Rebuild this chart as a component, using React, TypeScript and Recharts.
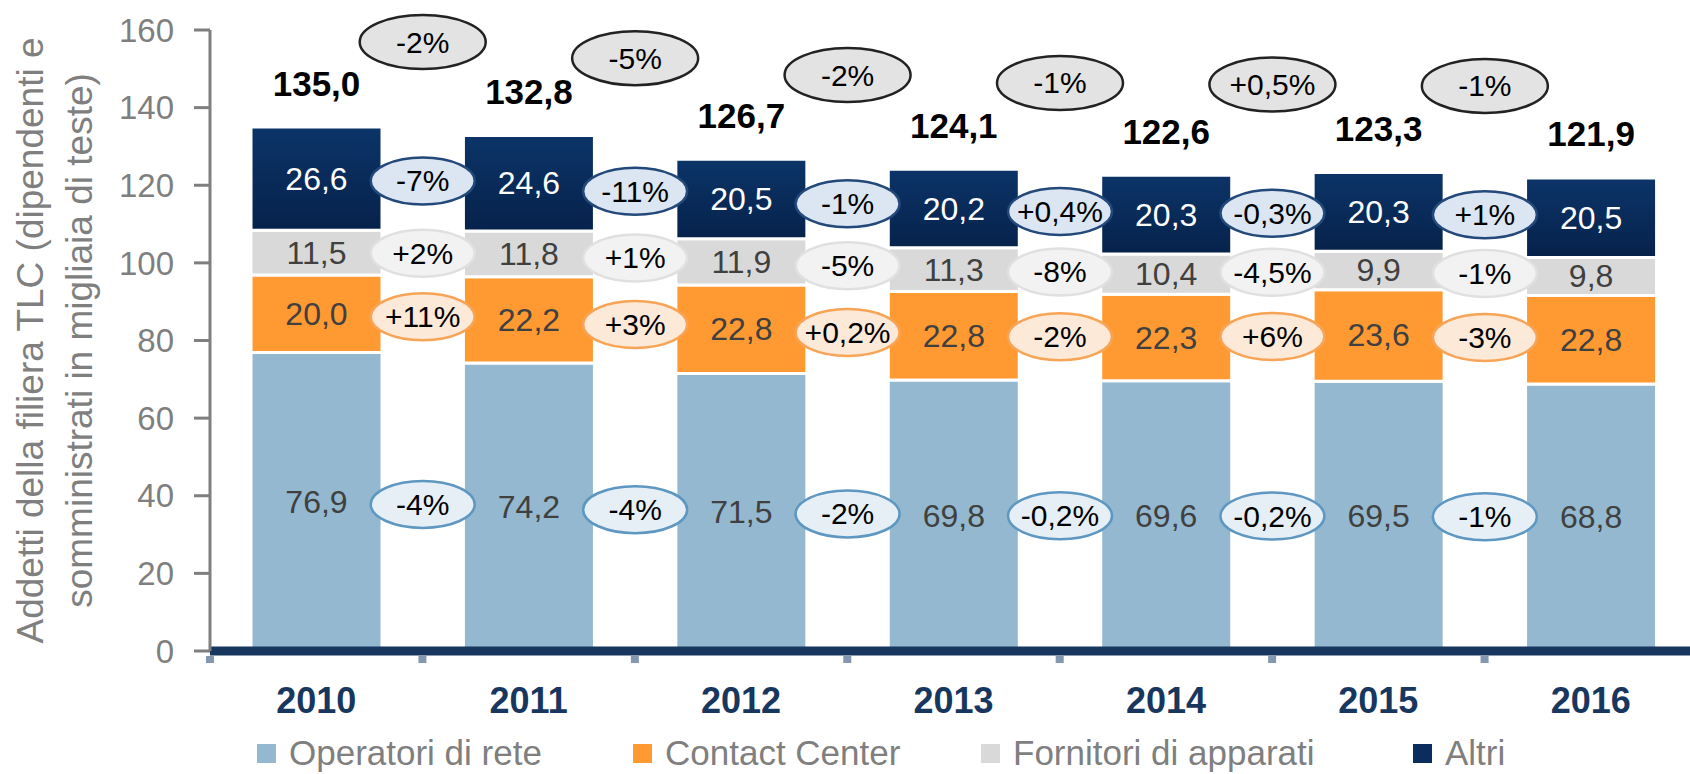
import React from 'react';
import { BarChart, Bar, XAxis, YAxis, Legend, LabelList } from 'recharts';

const anni = ['2010', '2011', '2012', '2013', '2014', '2015', '2016'];
const operatori = [76.9, 74.2, 71.5, 69.8, 69.6, 69.5, 68.8];
const contactCenter = [20.0, 22.2, 22.8, 22.8, 22.3, 23.6, 22.8];
const fornitori = [11.5, 11.8, 11.9, 11.3, 10.4, 9.9, 9.8];
const altri = [26.6, 24.6, 20.5, 20.2, 20.3, 20.3, 20.5];

// variazioni anno su anno (tra una colonna e la successiva)
const varTotale = ['-2%', '-5%', '-2%', '-1%', '+0,5%', '-1%'];
const varAltri = ['-7%', '-11%', '-1%', '+0,4%', '-0,3%', '+1%'];
const varFornitori = ['+2%', '+1%', '-5%', '-8%', '-4,5%', '-1%'];
const varContact = ['+11%', '+3%', '+0,2%', '-2%', '+6%', '-3%'];
const varOperatori = ['-4%', '-4%', '-2%', '-0,2%', '-0,2%', '-1%'];

const yTicks = [0, 20, 40, 60, 80, 100, 120, 140, 160];

const FONT = '"Liberation Sans", Arial, sans-serif';
const W = 1700;
const H = 774;
const ASSE_Y = 210;
const MARGINE_DX = 3;
const banda = (W - ASSE_Y - MARGINE_DX) / anni.length;

const data = anni.map((anno, i) => ({
  anno,
  operatori: operatori[i],
  contact: contactCenter[i],
  fornitori: fornitori[i],
  altri: altri[i],
}));

const totali = anni.map((_, i) => operatori[i] + contactCenter[i] + fornitori[i] + altri[i]);

const fmt = (v: number) => v.toFixed(1).replace('.', ',');

const serie = [
  { vals: operatori, variazioni: varOperatori, fill: '#e7eff6', stroke: '#5d97c2' },
  { vals: contactCenter, variazioni: varContact, fill: '#fde9d8', stroke: '#f8a457' },
  { vals: fornitori, variazioni: varFornitori, fill: '#f2f2f2', stroke: '#e0e0e0' },
  { vals: altri, variazioni: varAltri, fill: '#dce6f2', stroke: '#23487a' },
];

const legenda = [
  { nome: 'Operatori di rete', colore: '#93b8cf', left: 257 },
  { nome: 'Contact Center', colore: '#ff9a33', left: 633 },
  { nome: 'Fornitori di apparati', colore: '#d9d9d9', left: 981 },
  { nome: 'Altri', colore: '#0a2d5e', left: 1413 },
];

// centro del segmento k nella colonna i (in unità del grafico)
function centroSegmento(k: number, i: number) {
  let base = 0;
  for (let s = 0; s < k; s++) base += serie[s].vals[i];
  return base + serie[k].vals[i] / 2;
}

function etichettaValore(colore: string) {
  return (props: any) => {
    const { x, y, width, height, value } = props;
    return (
      <text
        x={Number(x) + Number(width) / 2}
        y={Number(y) + Number(height) / 2}
        textAnchor="middle"
        dominantBaseline="central"
        fontFamily={FONT}
        fontSize={32}
        fill={colore}
      >
        {fmt(Number(value))}
      </text>
    );
  };
}

// ovali delle variazioni e totale, disegnati sopra la serie "Altri"
function Annotazioni(props: any) {
  const { x, y, width, height, index } = props;
  const i = index as number;
  const ppu = Number(height) / altri[i];
  const base = operatori[i] + contactCenter[i] + fornitori[i];
  const y0 = Number(y) + Number(height) + base * ppu;
  const py = (v: number) => y0 - v * ppu;
  const cx = Number(x) + Number(width) / 2;
  const gx = cx + banda / 2;

  return (
    <g>
      <text
        x={cx}
        y={Number(y) - 44}
        textAnchor="middle"
        dominantBaseline="central"
        fontFamily={FONT}
        fontWeight={700}
        fontSize={35}
        fill="#000"
      >
        {fmt(totali[i])}
      </text>
      {i < anni.length - 1 &&
        serie.map((s, k) => {
          const cy = py((centroSegmento(k, i) + centroSegmento(k, i + 1)) / 2);
          return (
            <g key={k}>
              <ellipse cx={gx} cy={cy} rx={52} ry={23.5} fill={s.fill} stroke={s.stroke} strokeWidth={2.5} />
              <text
                x={gx}
                y={cy}
                textAnchor="middle"
                dominantBaseline="central"
                fontFamily={FONT}
                fontSize={30}
                fill="#000"
              >
                {s.variazioni[i]}
              </text>
            </g>
          );
        })}
      {i < anni.length - 1 && (
        <g>
          <ellipse
            cx={gx}
            cy={py((totali[i] + totali[i + 1]) / 2 + 23)}
            rx={63}
            ry={27}
            fill="#e3e3e3"
            stroke="#222"
            strokeWidth={2.5}
          />
          <text
            x={gx}
            y={py((totali[i] + totali[i + 1]) / 2 + 23)}
            textAnchor="middle"
            dominantBaseline="central"
            fontFamily={FONT}
            fontSize={30}
            fill="#000"
          >
            {varTotale[i]}
          </text>
        </g>
      )}
    </g>
  );
}

function TickAnno(props: any) {
  const { x, y, payload } = props;
  return (
    <g>
      <rect x={x - banda / 2 - 4} y={y + 5} width={8} height={7} fill="#8497b0" />
      <text x={x} y={y + 62} textAnchor="middle" fontFamily={FONT} fontWeight={700} fontSize={36} fill="#17375e">
        {payload.value}
      </text>
    </g>
  );
}

function TitoloAsseY(props: any) {
  const vb = props.viewBox || { y: 30, height: 621 };
  const cy = vb.y + vb.height / 2;
  return (
    <g transform="rotate(-90)">
      <text x={-cy} y={43} textAnchor="middle" fontFamily={FONT} fontSize={37} fill="#7f7f7f">
        Addetti della filiera TLC (dipendenti e
      </text>
      <text x={-cy} y={92} textAnchor="middle" fontFamily={FONT} fontSize={37} fill="#7f7f7f">
        somministrati in migliaia di teste)
      </text>
    </g>
  );
}

function Legenda() {
  return (
    <div style={{ position: 'relative', width: 1690, height: 40, fontFamily: FONT, fontSize: 35, color: '#7f7f7f' }}>
      {legenda.map((l) => (
        <div
          key={l.nome}
          style={{
            position: 'absolute',
            left: l.left,
            top: 0,
            height: 40,
            display: 'flex',
            alignItems: 'center',
            whiteSpace: 'nowrap',
            lineHeight: '40px',
          }}
        >
          <span style={{ display: 'inline-block', width: 19, height: 19, background: l.colore, marginRight: 13, flexShrink: 0 }} />
          <span>{l.nome}</span>
        </div>
      ))}
    </div>
  );
}

export default function App() {
  return (
    <div style={{ position: 'absolute', left: 0, top: 0, width: 1690, height: H, overflow: 'hidden', background: '#fff' }}>
      <BarChart width={W} height={H} data={data} margin={{ top: 30, right: MARGINE_DX, left: 0, bottom: 63 }} barSize={131}>
        <defs>
          <linearGradient id="gradAltri" x1="0" y1="0" x2="0" y2="1">
            <stop offset="0" stopColor="#0c3468" />
            <stop offset="1" stopColor="#06224b" />
          </linearGradient>
        </defs>
        <XAxis
          dataKey="anno"
          height={60}
          tickLine={false}
          tickSize={0}
          tickMargin={0}
          axisLine={{ stroke: '#17375e', strokeWidth: 9 }}
          tick={<TickAnno />}
          interval={0}
        />
        <YAxis
          width={ASSE_Y}
          domain={[0, 160]}
          ticks={yTicks}
          interval={0}
          axisLine={{ stroke: '#7f7f7f', strokeWidth: 3 }}
          tickLine={{ stroke: '#7f7f7f', strokeWidth: 3 }}
          tickSize={16}
          tickMargin={20}
          tick={{ fill: '#7f7f7f', fontSize: 33, fontFamily: FONT }}
          label={{ content: TitoloAsseY }}
        />
        <Legend
          layout="horizontal"
          verticalAlign="middle"
          align="center"
          wrapperStyle={{ top: 733, left: 0, width: 1690, height: 40 }}
          content={<Legenda />}
        />
        <Bar dataKey="operatori" name="Operatori di rete" stackId="a" fill="#93b8cf" stroke="#fff" strokeWidth={3} isAnimationActive={false}>
          <LabelList dataKey="operatori" content={etichettaValore('#404040')} />
        </Bar>
        <Bar dataKey="contact" name="Contact Center" stackId="a" fill="#ff9a33" stroke="#fff" strokeWidth={3} isAnimationActive={false}>
          <LabelList dataKey="contact" content={etichettaValore('#404040')} />
        </Bar>
        <Bar dataKey="fornitori" name="Fornitori di apparati" stackId="a" fill="#d9d9d9" stroke="#fff" strokeWidth={3} isAnimationActive={false}>
          <LabelList dataKey="fornitori" content={etichettaValore('#404040')} />
        </Bar>
        <Bar dataKey="altri" name="Altri" stackId="a" fill="url(#gradAltri)" stroke="#fff" strokeWidth={3} isAnimationActive={false}>
          <LabelList dataKey="altri" content={etichettaValore('#ffffff')} />
          <LabelList dataKey="altri" content={Annotazioni} />
        </Bar>
      </BarChart>
    </div>
  );
}
